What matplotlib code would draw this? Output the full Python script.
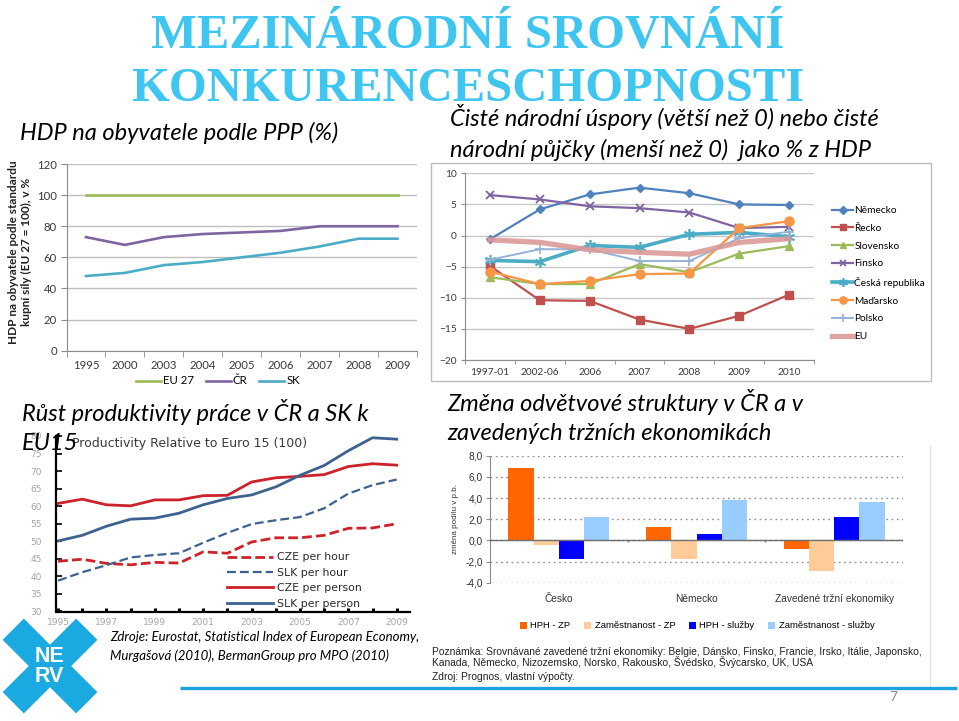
import matplotlib
matplotlib.use("Agg")
import matplotlib.pyplot as plt
import numpy as np
from matplotlib.patches import Polygon, Rectangle

W, H = 959, 721
SANS = ["Lato", "DejaVu Sans"]
ARIAL = ["Liberation Sans", "DejaVu Sans"]
WIDE = ["DejaVu Sans"]
SERIF = ["Liberation Serif", "DejaVu Serif"]
plt.rcParams["font.family"] = SANS

# HDP na obyvatele podle PPP (EU 27 = 100)
hdp_years = ["1995", "2000", "2003", "2004", "2005", "2006", "2007", "2008", "2009"]
hdp_eu27 = [100, 100, 100, 100, 100, 100, 100, 100, 100]
hdp_cr = [73, 68, 73, 75, 76, 77, 80, 80, 80]
hdp_sk = [48, 50, 55, 57, 60, 63, 67, 72, 72]

# cisté národní úspory / pujcky, % HDP
sav_periods = ["1997-01", "2002-06", "2006", "2007", "2008", "2009", "2010"]
sav_nemecko = [-0.6, 4.2, 6.6, 7.7, 6.8, 5.0, 4.9]
sav_recko = [-4.9, -10.4, -10.5, -13.5, -15.0, -12.9, -9.5]
sav_slovensko = [-6.7, -7.8, -7.8, -4.6, -5.9, -2.9, -1.7]
sav_finsko = [6.5, 5.8, 4.7, 4.4, 3.7, 1.2, 1.4]
sav_cr = [-4.0, -4.2, -1.6, -1.9, 0.2, 0.5, -0.2]
sav_madarsko = [-5.8, -7.8, -7.3, -6.2, -6.1, 1.2, 2.3]
sav_polsko = [-3.9, -2.2, -2.2, -4.1, -4.1, -0.4, 0.6]
sav_eu = [-0.7, -1.1, -2.3, -2.7, -3.0, -1.1, -0.5]

# produktivita vuci EU15 (=100)
prod_years = list(range(1995, 2010))
cze_hour = [44.3, 44.9, 43.7, 43.3, 44.0, 43.8, 47.0, 46.6, 49.8, 51.0, 51.0, 51.7, 53.7, 53.8, 55.0]
slk_hour = [38.8, 41.2, 43.2, 45.4, 46.1, 46.6, 49.6, 52.4, 54.9, 56.0, 56.9, 59.4, 63.6, 66.0, 67.6]
cze_person = [60.8, 62.0, 60.4, 60.1, 61.8, 61.8, 63.0, 63.1, 66.9, 68.1, 68.5, 69.0, 71.3, 72.1, 71.7]
slk_person = [50.1, 51.7, 54.3, 56.3, 56.6, 58.0, 60.4, 62.2, 63.2, 65.5, 68.8, 71.6, 75.8, 79.5, 79.1]

# zmena podilu v p.b.
bar_groups = ["Česko", "Německo", "Zavedené tržní ekonomiky"]
hph_zp = [6.8, 1.3, -0.8]
zam_zp = [-0.4, -1.8, -2.9]
hph_sluzby = [-1.8, 0.6, 2.2]
zam_sluzby = [2.2, 3.8, 3.6]


def px_axes(fig, x0, y0, x1, y1, z=2):
    ax = fig.add_axes([x0 / W, 1 - y1 / H, (x1 - x0) / W, (y1 - y0) / H])
    ax.set_zorder(z)
    return ax


def set_tick_font(ax, family, size, color):
    for lbl in ax.get_xticklabels() + ax.get_yticklabels():
        lbl.set_fontfamily(family)
        lbl.set_fontsize(size)
        lbl.set_color(color)


fig = plt.figure(figsize=(W / 100, H / 100), dpi=100)

bg = fig.add_axes([0, 0, 1, 1])
bg.set_zorder(0)
bg.set_xlim(0, W)
bg.set_ylim(H, 0)
bg.axis("off")
bg.add_patch(Rectangle((431, 162.5), 500, 218.5, facecolor="white", edgecolor="#BDBDBD", lw=1))
bg.plot([930, 930], [446, 688], color="#E4E4E4", lw=1)

# --- HDP per capita
ax1 = px_axes(fig, 66.5, 164, 417, 350.7)
x1 = np.arange(len(hdp_years))
ax1.plot(x1, hdp_eu27, color="#9BBB59", lw=1.9, label="EU 27")
ax1.plot(x1, hdp_cr, color="#8064A2", lw=1.9, label="ČR")
ax1.plot(x1, hdp_sk, color="#4BACC6", lw=1.9, label="SK")
ax1.set_xlim(-0.5, len(x1) - 0.5)
ax1.set_ylim(0, 120)
ax1.set_yticks(range(0, 121, 20))
ax1.set_xticks(x1, hdp_years)
ax1.set_xticks(np.arange(-0.5, len(x1)), minor=True)
ax1.tick_params(axis="x", which="major", length=0, pad=7)
ax1.tick_params(axis="x", which="minor", length=4, color="#8C8C8C")
ax1.tick_params(axis="y", length=4, color="#8C8C8C", pad=3)
ax1.grid(axis="y", color="#BFBFBF", lw=1)
ax1.set_axisbelow(True)
for s in ["top", "right"]:
    ax1.spines[s].set_visible(False)
for s in ["left", "bottom"]:
    ax1.spines[s].set_color("#8C8C8C")
set_tick_font(ax1, SANS, 8.2, "#3A3A3A")
ax1.legend(loc="center", bbox_to_anchor=(218 / W, 1 - 381 / H), bbox_transform=fig.transFigure,
           ncol=3, frameon=False, fontsize=8.2, handlelength=2.2, handletextpad=0.2,
           columnspacing=1.0, borderpad=0)

# --- savings / borrowing
ax2 = px_axes(fig, 465, 173.3, 814, 360)
x2 = np.arange(len(sav_periods))
ax2.plot(x2, sav_nemecko, color="#4F81BD", lw=1.6, marker="D", ms=4.5, label="Německo")
ax2.plot(x2, sav_recko, color="#C0504D", lw=1.6, marker="s", ms=5.5, label="Řecko")
ax2.plot(x2, sav_slovensko, color="#9BBB59", lw=1.6, marker="^", ms=5.5, label="Slovensko")
ax2.plot(x2, sav_finsko, color="#8064A2", lw=1.6, marker="x", ms=6, mew=1.3, label="Finsko")
ax2.plot(x2, sav_cr, color="#4BACC6", lw=2.6, marker=(6, 2, 0), ms=8, mew=1.2, label="Česká republika")
ax2.plot(x2, sav_madarsko, color="#F79646", lw=1.6, marker="o", ms=6.5, label="Maďarsko")
ax2.plot(x2, sav_polsko, color="#95B3D7", lw=1.4, marker="+", ms=7, mew=1.2, label="Polsko")
ax2.plot(x2, sav_eu, color="#DA9A98", lw=3.8, alpha=0.9, label="EU")
ax2.set_xlim(-0.5, len(x2) - 0.5)
ax2.set_ylim(-20, 10)
ax2.set_yticks(range(-20, 11, 5))
ax2.set_xticks(x2, sav_periods)
ax2.set_xticks(np.arange(-0.5, len(x2)), minor=True)
ax2.tick_params(axis="x", which="major", length=0, pad=6)
ax2.tick_params(axis="x", which="minor", length=3, color="#8C8C8C")
ax2.tick_params(axis="y", length=3, color="#8C8C8C", pad=3)
ax2.grid(axis="y", color="#C8C8C8", lw=1)
ax2.set_axisbelow(True)
for s in ["top", "right"]:
    ax2.spines[s].set_visible(False)
for s in ["left", "bottom"]:
    ax2.spines[s].set_color("#8C8C8C")
set_tick_font(ax2, SANS, 7.3, "#3A3A3A")
ax2.legend(loc="upper left", bbox_to_anchor=(827 / W, 1 - 201 / H), bbox_transform=fig.transFigure,
           frameon=False, fontsize=7.3, handlelength=2.1, handletextpad=0.1, labelspacing=0.85,
           borderpad=0, markerscale=0.8)

# --- productivity
RED = "#CC2229"
BLUE = "#3D6290"
ax3 = px_axes(fig, 55.7, 436, 410, 611.5)
ax3.plot(prod_years, cze_hour, color=RED, lw=2.0, dashes=(3.5, 1.5), label="CZE per hour")
ax3.plot(prod_years, slk_hour, color=BLUE, lw=1.6, dashes=(4, 1.8), label="SLK per hour")
ax3.plot(prod_years, cze_person, color=RED, lw=2.0, label="CZE per person")
ax3.plot(prod_years, slk_person, color=BLUE, lw=2.0, label="SLK per person")
ax3.set_xlim(1994.9, 2009.55)
ax3.set_ylim(30, 80)
ax3.set_yticks(range(30, 81, 5))
ax3.set_xticks(prod_years[::2])
ax3.set_xticks(prod_years, minor=True)
ax3.tick_params(axis="y", direction="in", length=4, width=1.2, pad=10)
ax3.tick_params(axis="x", which="both", direction="in", length=3, width=2.2, pad=5)
for s in ["top", "right"]:
    ax3.spines[s].set_visible(False)
for s in ["left", "bottom"]:
    ax3.spines[s].set_linewidth(1.6)
set_tick_font(ax3, WIDE, 6.5, "#A5A5A5")
ax3.text(0.046, 0.955, "Productivity Relative to Euro 15 (100)", transform=ax3.transAxes,
         family=WIDE, fontsize=9.0, color="#3A3A3A", va="center")
leg3 = ax3.legend(loc="upper left", bbox_to_anchor=(222 / W, 1 - 547 / H), bbox_transform=fig.transFigure,
                  frameon=False, handlelength=4.2, handletextpad=0.4, labelspacing=0.5, borderpad=0,
                  prop={"family": WIDE, "size": 7.8})
for t in leg3.get_texts():
    t.set_color("#2A2A2A")

# --- bars
ax4 = px_axes(fig, 490, 455.7, 903, 582.7)
gx = np.arange(len(bar_groups))
bw = 0.184
bar_series = [
    (hph_zp, "#FF6600", "HPH - ZP"),
    (zam_zp, "#FFCC99", "Zaměstnanost - ZP"),
    (hph_sluzby, "#0000FF", "HPH - služby"),
    (zam_sluzby, "#99CCFF", "Zaměstnanost - služby"),
]
for i, (vals, col, lab) in enumerate(bar_series):
    ax4.bar(gx + (i - 1.5) * bw, vals, width=bw, color=col, label=lab, zorder=2)
ax4.set_xlim(-0.5, len(gx) - 0.5)
ax4.set_ylim(-4, 8)
yt = np.arange(-4, 9, 2)
ax4.set_yticks(yt, [f"{v:.1f}".replace(".", ",") for v in yt])
ax4.set_xticks(gx, bar_groups)
ax4.tick_params(axis="x", length=0, pad=8)
ax4.tick_params(axis="y", length=3, color="#8C8C8C", pad=2)
ax4.grid(axis="y", color="#8C8C8C", lw=1, ls=(0, (1.2, 2.6)))
ax4.set_axisbelow(True)
ax4.axhline(0, color="#6E6E6E", lw=1, zorder=3)
ax4.vlines(gx[1:] - 0.5, -0.15, 0, color="#6E6E6E", lw=1, zorder=3)
for s in ["top", "right", "bottom"]:
    ax4.spines[s].set_visible(False)
ax4.spines["left"].set_color("#8C8C8C")
set_tick_font(ax4, ARIAL, 7.3, "#333333")
ax4.set_ylabel("změna podílu v p.b.", family=ARIAL, fontsize=5.8, color="#333333", labelpad=5)
ax4.legend(loc="center", bbox_to_anchor=(697 / W, 1 - 626 / H), bbox_transform=fig.transFigure,
           ncol=4, frameon=False, handlelength=0.8, handleheight=0.8, handletextpad=0.35,
           columnspacing=1.4, prop={"family": ARIAL, "size": 6.8})

# --- texts and decorations on top
ov = fig.add_axes([0, 0, 1, 1])
ov.set_zorder(10)
ov.patch.set_alpha(0)
ov.set_xlim(0, W)
ov.set_ylim(H, 0)
ov.axis("off")

TITLE = "#3EC5F0"
ov.text(468, 47, "MEZINÁRODNÍ SROVNÁNÍ", ha="center", va="baseline", fontsize=35,
        fontweight="bold", family=SERIF, color=TITLE)
ov.text(468, 101, "KONKURENCESCHOPNOSTI", ha="center", va="baseline", fontsize=35,
        fontweight="bold", family=SERIF, color=TITLE)

sub = dict(family=SANS, style="italic", fontsize=17, color="black", va="baseline", ha="left")
ov.text(20, 140, "HDP na obyvatele podle PPP (%)", **sub)
ov.text(450, 126, "Čisté národní úspory (větší než 0) nebo čisté", **sub)
ov.text(450, 157, "národní půjčky (menší než 0)  jako % z HDP", **sub)
ov.text(22, 421, "Růst produktivity práce v ČR a SK k", **sub)
ov.text(22, 450, "EU15", **sub)
ov.text(447, 411, "Změna odvětvové struktury v ČR a v", **sub)
ov.text(447, 440, "zavedených tržních ekonomikách", **sub)

src = dict(family=SANS, style="italic", fontsize=9.5, color="black", va="baseline", ha="left")
ov.text(110, 641, "Zdroje: Eurostat, Statistical Index of European Economy,", **src)
ov.text(110, 660, "Murgašová (2010), BermanGroup pro MPO (2010)", **src)

ov.text(20, 252, "HDP na obyvatele podle standardu\nkupní síly (EU 27 = 100), v %", rotation=90,
        ha="center", va="center", multialignment="center", family=SANS, fontsize=8.5,
        fontweight="bold", color="#222222", linespacing=1.15)

note = dict(family=ARIAL, fontsize=7.4, color="#222222", va="baseline", ha="left")
ov.text(432, 655, "Poznámka: Srovnávané zavedené tržní ekonomiky: Belgie, Dánsko, Finsko, Francie, "
        "Irsko, Itálie, Japonsko,", **note)
ov.text(432, 666, "Kanada, Německo, Nizozemsko, Norsko, Rakousko, Švédsko, Švýcarsko, UK, USA", **note)
ov.text(432, 680, "Zdroj: Prognos, vlastní výpočty.", **note)

ov.plot([180, 957], [688, 688], color="#1CA3DD", lw=2.4, solid_capstyle="butt")
ov.text(893, 697, "7", ha="center", va="center", fontsize=10, color="#8C8C8C", family=SANS)

# NERV logo
LOGO = "#1BA9E1"
cx, cy, half_len, half_w = 50, 666, 52, 15
for ux, uy in [(1, 1), (1, -1)]:
    n = np.hypot(ux, uy)
    ux, uy = ux / n, uy / n
    vx, vy = -uy, ux
    pts = [(cx + sa * half_len * ux + sb * half_w * vx, cy + sa * half_len * uy + sb * half_w * vy)
           for sa, sb in [(-1, -1), (1, -1), (1, 1), (-1, 1)]]
    ov.add_patch(Polygon(pts, closed=True, facecolor=LOGO, edgecolor="none"))
ov.add_patch(Rectangle((31, 647), 38, 40, facecolor=LOGO, edgecolor="none"))
ov.text(49, 657, "NE", ha="center", va="center", color="white", fontsize=15.5,
        fontweight="bold", family=ARIAL)
ov.text(49, 677, "RV", ha="center", va="center", color="white", fontsize=15.5,
        fontweight="bold", family=ARIAL)

fig.savefig("out.png", dpi=100)
